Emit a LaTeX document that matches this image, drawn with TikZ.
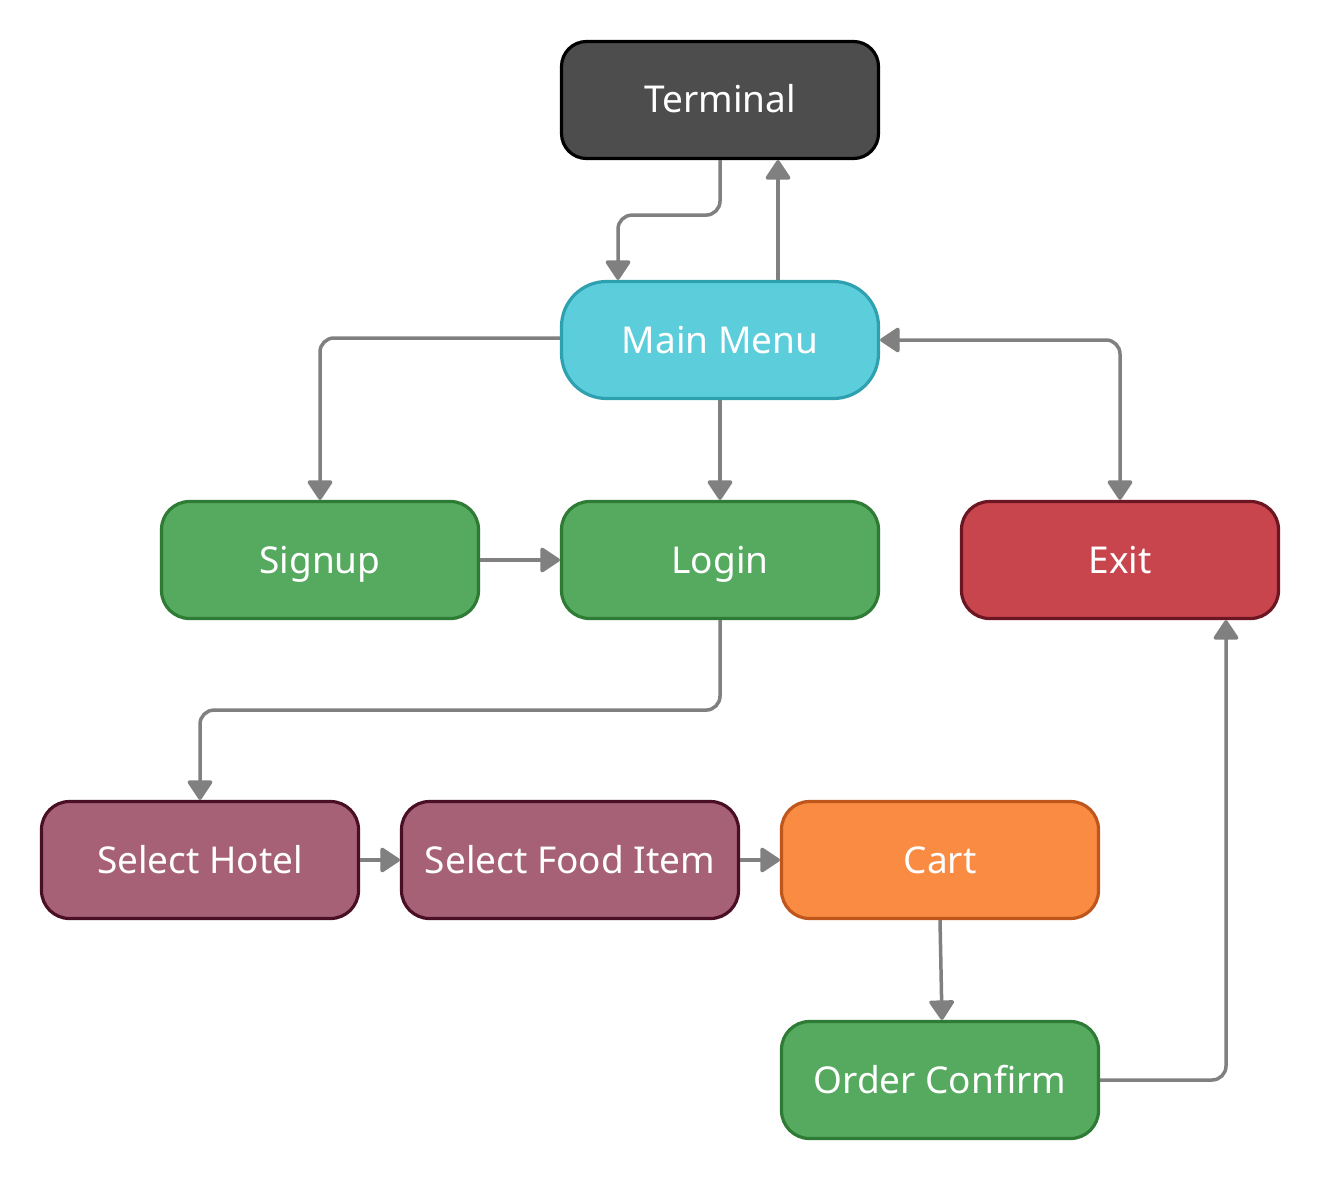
\documentclass[tikz,border=0pt]{standalone}
\usepackage{fontspec}
\setmainfont{Noto Sans}
\usetikzlibrary{arrows.meta}
\definecolor{termfill}{HTML}{4D4D4D}
\definecolor{menufill}{HTML}{5CCEDB}
\definecolor{menuline}{HTML}{2EA1B1}
\definecolor{greenfill}{HTML}{55AA60}
\definecolor{greenline}{HTML}{2E7B35}
\definecolor{redfill}{HTML}{C9454E}
\definecolor{redline}{HTML}{6B1620}
\definecolor{purpfill}{HTML}{A66177}
\definecolor{purpline}{HTML}{4A0F25}
\definecolor{orfill}{HTML}{F98B42}
\definecolor{orline}{HTML}{BF561B}
\definecolor{conn}{HTML}{808080}
\tikzset{
  box/.style={draw, line width=3.2pt, rounded corners=28pt, minimum width=317pt, minimum height=117pt,
    text=white, font=\fontsize{37}{44}\selectfont, inner sep=0pt, text height=34pt, text depth=8pt},
  termbox/.style={box, fill=termfill, draw=black, rounded corners=25pt},
  menubox/.style={box, fill=menufill, draw=menuline, rounded corners=45pt},
  greenbox/.style={box, fill=greenfill, draw=greenline},
  redbox/.style={box, fill=redfill, draw=redline},
  purpbox/.style={box, fill=purpfill, draw=purpline},
  orbox/.style={box, fill=orfill, draw=orline},
  link/.style={draw=conn, line width=3.5pt, rounded corners=14pt,
    -{Triangle[length=21pt,width=27pt,round]}},
  bilink/.style={link, {Triangle[length=21pt,width=27pt,round]}-{Triangle[length=21pt,width=27pt,round]}},
}
\begin{document}
\begin{tikzpicture}[x=1pt,y=-1pt]
\useasboundingbox (0,0) rectangle (1320,1180);
\node[termbox] (term) at (720,100) {Terminal};
\node[menubox] (menu) at (720,340) {Main Menu};
\node[greenbox] (signup) at (320,560) {Signup};
\node[greenbox] (login) at (720,560) {Login};
\node[redbox] (exit) at (1120,560) {Exit};
\node[purpbox] (hotel) at (200,860) {Select Hotel};
\node[purpbox, minimum width=337pt] (food) at (570,860) {Select Food Item};
\node[orbox] (cart) at (940,860) {Cart};
\node[greenbox] (order) at (940,1080) {Order Confirm};

\path[link] (term.south) -- ++(0,55) -| ([xshift=-102pt]menu.north);
\path[link] ([xshift=58pt]menu.north) -- ([xshift=58pt]term.south);
\path[link] ([yshift=2pt]menu.west) -| (signup.north);
\path[link] (menu.south) -- (login.north);
\path[bilink] (menu.east) -| (exit.north);
\path[link] (signup.east) -- (login.west);
\path[link] (login.south) -- ++(0,90) -| (hotel.north);
\path[link] (hotel.east) -- (food.west);
\path[link] (food.east) -- (cart.west);
\path[link] (cart.south) -- ([xshift=2pt]order.north);
\path[link] (order.east) -| ([xshift=106pt]exit.south);
\end{tikzpicture}
\end{document}
